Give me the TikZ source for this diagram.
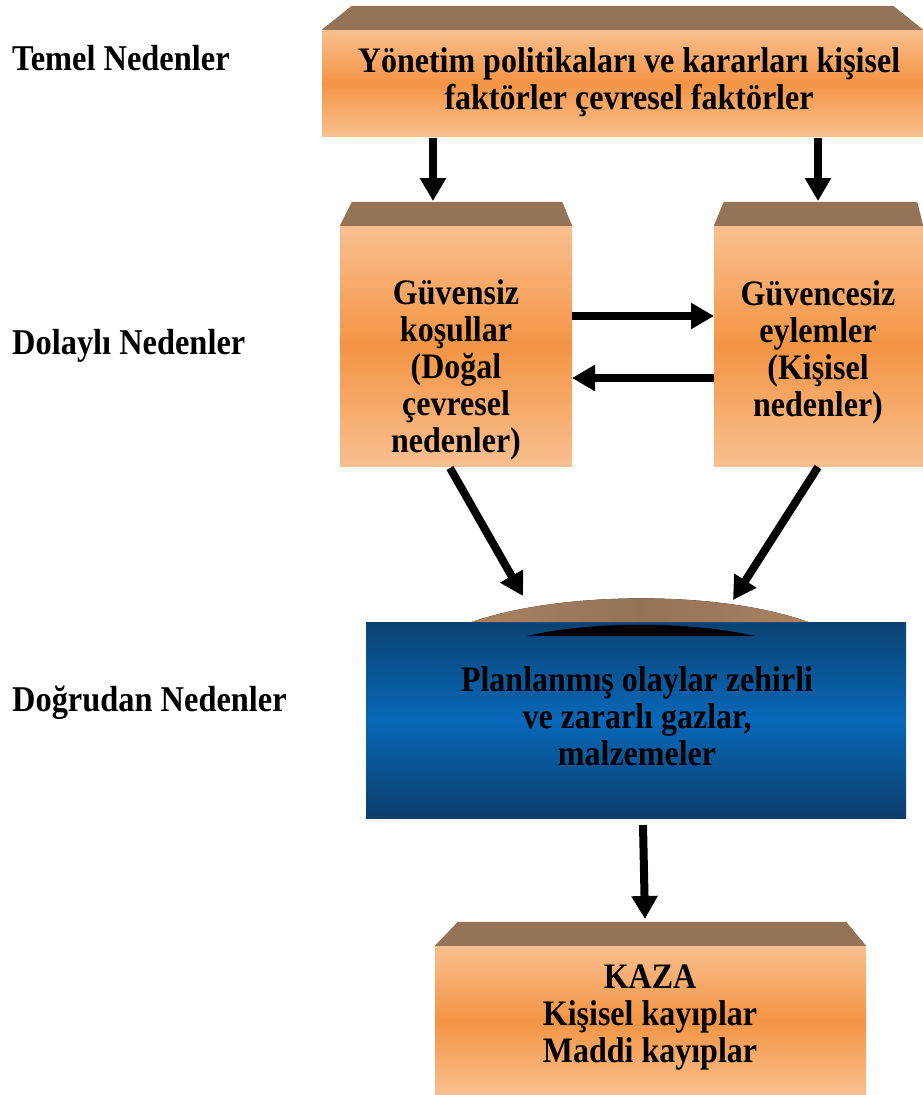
\documentclass[tikz,border=0pt]{standalone}
\usepackage{fontspec}
\setmainfont{Liberation Serif}
\usetikzlibrary{arrows.meta,calc}
\definecolor{oLight}{HTML}{F9BF8F}
\definecolor{oMid}{HTML}{F49444}
\definecolor{bDark}{HTML}{0A4272}
\definecolor{bMid}{HTML}{0868B8}
\definecolor{bBot}{HTML}{0B3D6C}
\definecolor{brownTop}{HTML}{957357}
\definecolor{brownEdge}{HTML}{A88263}
\newcommand{\tallstack}[1]{\scalebox{1}[1.12]{\begin{tabular}{@{}c@{}}#1\end{tabular}}}
\newcommand{\tallline}[1]{\scalebox{1}[1.12]{#1}}
\tikzset{
  obox/.style={rectangle, inner sep=0pt, draw=none, top color=oLight, bottom color=oLight, middle color=oMid},
  bbox/.style={rectangle, inner sep=0pt, draw=none, top color=bDark, bottom color=bBot, middle color=bMid},
  lid/.style={fill=brownTop},
  txt/.style={font=\fontsize{32}{33}\selectfont\bfseries, inner sep=0pt},
  lbl/.style={anchor=base west, font=\fontsize{32.4}{36}\selectfont\bfseries, inner sep=0pt},
  arr/.style={line width=8pt, -{Triangle[length=23pt,width=25pt]}}
}
\begin{document}
\begin{tikzpicture}[x=1pt,y=-1pt]
\useasboundingbox (0,0) rectangle (923,1095);
% boxes
\node[obox, minimum width=601pt, minimum height=106pt] (top) at (622.5,83) {};
\fill[lid] (top.north west) -- ++(30,-24) -- ($(top.north east)+(-30,-24)$) -- (top.north east) -- cycle;
\node[txt] (toptxt) at (629,84) {\tallstack{Yönetim politikaları ve kararları kişisel\\faktörler çevresel faktörler}};

\node[obox, minimum width=232pt, minimum height=240pt] (left) at (456,346) {};
\fill[lid] (left.north west) -- ++(12,-24) -- ($(left.north east)+(-10,-24)$) -- (left.north east) -- cycle;
\node[txt] (lefttxt) at (456,371) {\tallstack{Güvensiz\\koşullar\\(Doğal\\çevresel\\nedenler)}};

\node[obox, minimum width=209pt, minimum height=240pt] (right) at (818.5,346) {};
\fill[lid] (right.north west) -- ++(10,-24) -- ($(right.north east)+(-6,-24)$) -- (right.north east) -- cycle;
\node[txt] (righttxt) at (818,354) {\tallstack{Güvencesiz\\eylemler\\(Kişisel\\nedenler)}};

% blue box with dome
\coordinate (domeL) at (472,622);
\coordinate (domeR) at (808,622);
\fill[left color=brownEdge, right color=brownEdge, middle color=brownTop] (domeL) .. controls (560,591) and (720,590) .. (domeR) -- cycle;
\node[bbox, minimum width=540pt, minimum height=196pt] (blue) at (636,720) {};
\fill[black] (527,636) .. controls (590,621) and (690,621) .. (755,636) -- cycle;
\node[txt] (bluetxt) at (637,721) {\tallstack{Planlanmış olaylar zehirli\\ve zararlı gazlar,\\malzemeler}};

\node[obox, minimum width=431pt, minimum height=149pt] (bot) at (650.5,1020.5) {};
\fill[lid] (bot.north west) -- ++(23,-24) -- ($(bot.north east)+(-20,-24)$) -- (bot.north east) -- cycle;
\node[txt] (bottxt) at (650,1018) {\tallstack{KAZA\\Kişisel kayıplar\\Maddi kayıplar}};

% side labels
\node[lbl] (l1) at (12,70) {\tallline{Temel Nedenler}};
\node[lbl] (l2) at (12,354) {\tallline{Dolaylı Nedenler}};
\node[lbl] (l3) at (12,711) {\tallline{Doğrudan Nedenler}};

% arrow endpoints
\coordinate (a1s) at (433,138); \coordinate (a1e) at (433,201);
\coordinate (a2s) at (818,138); \coordinate (a2e) at (818,201);
\coordinate (a3s) at (572,316); \coordinate (a3e) at (714,316);
\coordinate (a4s) at (714,378); \coordinate (a4e) at (572,378);
\coordinate (a5s) at (450,468); \coordinate (a5e) at (523,596);
\coordinate (a6s) at (818,467); \coordinate (a6e) at (733,600);
\coordinate (a7s) at (643,825); \coordinate (a7e) at (645,919);
\draw[arr] (a1s) -- (a1e);
\draw[arr] (a2s) -- (a2e);
\draw[arr] (a3s) -- (a3e);
\draw[arr] (a4s) -- (a4e);
\draw[arr] (a5s) -- (a5e);
\draw[arr] (a6s) -- (a6e);
\draw[arr] (a7s) -- (a7e);
\end{tikzpicture}
\end{document}
